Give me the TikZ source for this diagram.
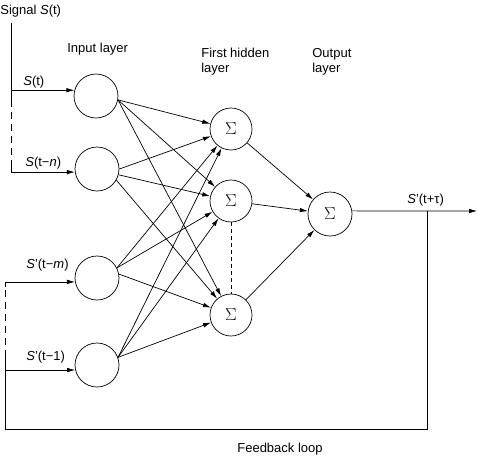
\documentclass[tikz,border=0pt]{standalone}
\usepackage{fontspec}
\setmainfont{Liberation Sans}
\usetikzlibrary{arrows.meta}
\begin{document}
\begin{tikzpicture}[x=1pt,y=-1pt, line width=0.7pt,
  neuron/.style={draw,circle,minimum size=44pt,inner sep=0pt},
  sumnode/.style={draw,circle,minimum size=42pt,inner sep=0pt,font=\fontsize{17}{17}\selectfont},
  lbl/.style={anchor=base west,inner sep=0pt,font=\fontsize{13}{15.6}\selectfont},
  arr/.style={-{Latex[length=8pt,width=4.5pt]}},
  dsh/.style={dash pattern=on 7pt off 5pt},
  hdsh/.style={dash pattern=on 4pt off 3pt}]
\useasboundingbox (0,0) rectangle (478,458);

% labels
\node[lbl] (tsig) at (0,14) {Signal \textit{S}(t)};
\node[lbl] (tin) at (67,52) {Input layer};
\node[lbl] (thid1) at (201,57) {First hidden};
\node[lbl] (thid2) at (201,72.5) {layer};
\node[lbl] (tout1) at (312,57) {Output};
\node[lbl] (tout2) at (312,72.5) {layer};
\node[lbl] (ls1) at (23,85) {\textit{S}(t)};
\node[lbl] (ls2) at (25,166) {\textit{S}(t−\textit{n})};
\node[lbl] (ls3) at (26,268) {\textit{S}'(t−\textit{m})};
\node[lbl] (ls4) at (26,360) {\textit{S}'(t−1)};
\node[lbl] (lso) at (407,203) {\textit{S}'(t+τ)};
\node[lbl] (tfb) at (237,452) {Feedback loop};

% neurons
\node[neuron] (i1) at (96,96) {};
\node[neuron] (i2) at (97,169) {};
\node[neuron] (i3) at (97,278) {};
\node[neuron] (i4) at (97,365) {};
\node[sumnode] (h1) at (231,129) {$\Sigma$};
\node[sumnode] (h2) at (231,201) {$\Sigma$};
\node[sumnode] (h3) at (231,315) {$\Sigma$};
\node[sumnode,minimum size=44pt] (o) at (330,214) {$\Sigma$};

% signal line
\coordinate (st) at (11,23);
\coordinate (sx) at (11,0);
\coordinate (sd1) at (11,100);
\coordinate (sd2) at (11,167);
\draw (st) -- (sd1);
\draw[dsh] (sd1) -- (sd2);
\draw (sd2) -- (i2.188 -| sx);
\draw[arr] (i1.165 -| sx) -- (i1.165);
\draw[arr] (i2.188 -| sx) -- (i2.188);

% input -> hidden
\foreach \h in {h1,h2,h3} {
  \draw[arr] (i1.-10) -- (\h);
}
\draw[arr] (i2.0) -- (h1);
\draw[arr] (i2.-15) -- (h2);
\draw[arr] (i2.-30) -- (h3);
\draw[arr] (i3.27) -- (h1);
\draw[arr] (i3.27) -- (h2);
\draw[arr] (i3.10) -- (h3);
\foreach \h in {h1,h2,h3} {
  \draw[arr] (i4.20) -- (\h);
}

% hidden -> output
\draw[hdsh] (h2.south) -- (h3.north);
\draw[arr] (h1) -- (o);
\draw[arr] (h2) -- (o);
\draw[arr] (h3) -- (o);

% output and feedback
\coordinate (oend) at (477,211);
\coordinate (fj) at (427,211);
\coordinate (fb1) at (427,429);
\coordinate (fb2) at (5,429);
\coordinate (fx) at (5,0);
\coordinate (fd1) at (5,357);
\coordinate (fd2) at (5,287);
\draw[arr] (o.8) -- (oend);
\draw (fj) -- (fb1) -- (fb2) -- (fd1);
\draw[dsh] (fd1) -- (fd2);
\draw (fd2) -- (i3.190 -| fx);
\draw[arr] (i3.190 -| fx) -- (i3.190);
\draw[arr] (i4.193 -| fx) -- (i4.193);
\end{tikzpicture}
\end{document}
